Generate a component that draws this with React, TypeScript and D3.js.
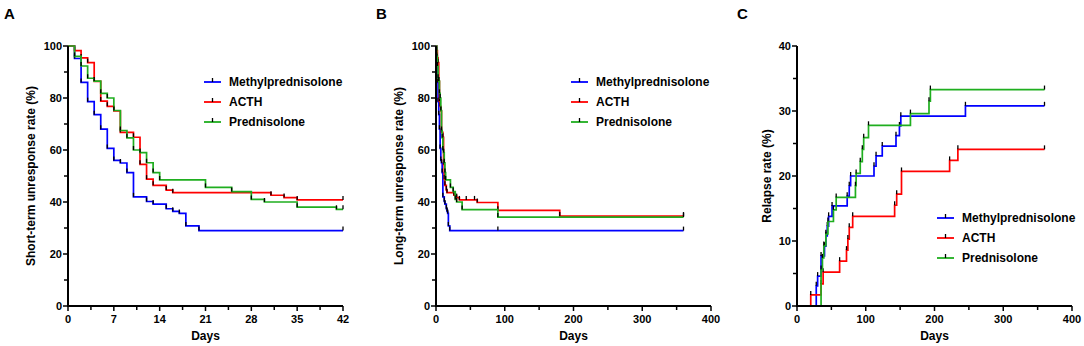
import * as d3 from "d3"
import React from "react"

type Pt = [number, number]

const seriesNames = ["Methylprednisolone", "ACTH", "Prednisolone"]
const seriesColors = ["#0000ff", "#ff0000", "#1fae1f"]

// Panel A: short-term unresponse rate (day, %)
const shortMethyl: Pt[] = [[0, 100], [1, 95.2], [2, 86], [3, 78.6], [4, 73.6], [5, 68], [6, 60.6], [7, 56], [8, 55], [9, 51.3], [10, 42], [12, 40.2], [13, 39.2], [15, 37.4], [16, 36.4], [17, 35.6], [18, 30.8], [20, 29]]
const shortActh: Pt[] = [[0, 100], [1, 98.2], [2, 95.4], [3, 93.6], [4, 86.4], [5, 78.8], [6, 76.8], [7, 75], [8, 66.8], [10, 64.9], [11, 54.5], [12, 48.8], [13, 46.4], [15, 44.6], [16, 43.6], [31, 42.6], [33, 41.7], [35, 40.8]]
const shortPred: Pt[] = [[0, 100], [1, 96], [2, 92.3], [3, 87.6], [4, 86.5], [5, 81.8], [6, 80], [7, 75.2], [8, 67.5], [9, 64.7], [10, 60], [11, 59], [12, 55.1], [13, 51.3], [14, 48.5], [21, 45.6], [25, 44], [28, 41], [30, 40], [35, 38], [41, 37.2]]

// Panel B: long-term unresponse rate (day, %)
const longMethyl: Pt[] = [[0, 100], [1, 95.2], [2, 86], [3, 78.6], [4, 73.6], [5, 68], [6, 60.6], [7, 56], [8, 55], [9, 51.3], [10, 42], [12, 40.2], [13, 39.2], [15, 37.4], [16, 36.4], [17, 35.6], [18, 30.8], [20, 29]]
const longActh: Pt[] = [[0, 100], [1, 98.2], [2, 95.4], [3, 93.6], [4, 86.4], [5, 78.8], [6, 76.8], [7, 75], [8, 66.8], [10, 64.9], [11, 54.5], [12, 48.8], [13, 46.4], [15, 44.6], [16, 43.6], [26, 42.6], [30, 41.7], [34, 40.8], [60, 39.8], [90, 36.8], [180, 34.6]]
const longPred: Pt[] = [[0, 100], [1, 96], [2, 92.3], [3, 87.6], [4, 86.5], [5, 81.8], [6, 80], [7, 75.2], [8, 67.5], [9, 64.7], [10, 60], [11, 59], [12, 55.1], [13, 51.3], [14, 48.5], [21, 45.6], [25, 44], [28, 41], [30, 40], [38, 37.1], [90, 34.2]]
const longCensorMethyl = [90]
const longCensorActh = [44, 56]
const longCensorPred: number[] = []

// Panel C: relapse rate (day, %)
const relapseMethyl: Pt[] = [[0, 0], [28, 3.1], [30, 4.6], [35, 7.7], [40, 9.2], [42, 10.8], [44, 12.3], [46, 13.8], [51, 15.4], [73, 16.9], [76, 18.5], [78, 20], [112, 21.5], [115, 23.1], [124, 24.6], [144, 26.2], [149, 27.7], [151, 29.2], [245, 30.8]]
const relapseActh: Pt[] = [[0, 0], [20, 1.7], [35, 3.4], [38, 5.2], [62, 6.9], [72, 8.6], [74, 10.3], [76, 12.1], [81, 13.8], [142, 15.5], [145, 17.2], [152, 20.7], [222, 22.4], [234, 24.1]]
const relapsePred: Pt[] = [[0, 0], [35, 5.6], [37, 7.4], [39, 9.3], [42, 11.1], [45, 13], [53, 14.8], [57, 16.7], [85, 18.5], [86, 20.4], [92, 22.2], [95, 24.1], [97, 25.9], [104, 27.8], [165, 29.6], [192, 31.5], [194, 33.3]]

const daysA = [0, 7, 14, 21, 28, 35, 42]
const daysBC = [0, 100, 200, 300, 400]
const pctAB = [0, 20, 40, 60, 80, 100]
const pctC = [0, 10, 20, 30, 40]

const font = "'Liberation Sans', Arial, sans-serif"
const top = 46
const bottom = 306
const plotW = 275

type Curve = { pts: Pt[]; censor: number[]; color: string }

const Panel = ({ left, letter, letterX, yTitle, yTitleX, xTicks, yTicks, end, curves, legendX, legendY }: {
  left: number; letter: string; letterX: number; yTitle: string; yTitleX: number
  xTicks: number[]; yTicks: number[]; end: number; curves: Curve[]; legendX: number; legendY: number
}) => {
  const x = d3.scaleLinear().domain([0, xTicks[xTicks.length - 1]]).range([left, left + plotW])
  const y = d3.scaleLinear().domain([0, yTicks[yTicks.length - 1]]).range([bottom, top])
  const line = d3.line<Pt>().x(d => x(d[0])).y(d => y(d[1])).curve(d3.curveStepAfter)
  const xMinor = xTicks.slice(1).map((t, i) => (t + xTicks[i]) / 2)
  const yMinor = yTicks.slice(1).map((t, i) => (t + yTicks[i]) / 2)

  // value of a step curve at a day
  const valueAt = (pts: Pt[], t: number) => {
    let v = pts[0][1]
    pts.forEach(p => { if (p[0] <= t) v = p[1] })
    return v
  }

  return (
    <g fontFamily={font} fontWeight="bold">
      <text x={letterX} y={19} fontSize={15}>{letter}</text>

      {curves.map((c, i) => {
        const last = c.pts[c.pts.length - 1]
        const ticks = c.pts.slice(1).map(p => p[0]).concat(c.censor, [end])
        return (
          <g key={i}>
            <path d={line([...c.pts, [end, last[1]]]) || ""} fill="none" stroke={c.color} strokeWidth={1.7} />
            {ticks.map((t, j) => (
              <line key={j} x1={x(t)} x2={x(t)} y1={y(valueAt(c.pts, t))} y2={y(valueAt(c.pts, t)) - 4}
                stroke="#000" strokeWidth={1.3} />
            ))}
          </g>
        )
      })}

      {/* axes */}
      <line x1={left} x2={left} y1={bottom + 1} y2={top} stroke="#000" strokeWidth={2} />
      <line x1={left - 1} x2={left + plotW} y1={bottom} y2={bottom} stroke="#000" strokeWidth={2} />
      {yTicks.map(t => (
        <g key={"y" + t}>
          <line x1={left - 5} x2={left} y1={y(t)} y2={y(t)} stroke="#000" strokeWidth={1.5} />
          <text x={left - 6} y={y(t)} dy="0.35em" textAnchor="end" fontSize={11}>{t}</text>
        </g>
      ))}
      {yMinor.map(t => (
        <line key={"ym" + t} x1={left - 4} x2={left} y1={y(t)} y2={y(t)} stroke="#000" strokeWidth={1.5} />
      ))}
      {xTicks.map(t => (
        <g key={"x" + t}>
          <line x1={x(t)} x2={x(t)} y1={bottom} y2={bottom + 5} stroke="#000" strokeWidth={1.5} />
          <text x={x(t)} y={bottom + 17} textAnchor="middle" fontSize={11}>{t}</text>
        </g>
      ))}
      {xMinor.map(t => (
        <line key={"xm" + t} x1={x(t)} x2={x(t)} y1={bottom} y2={bottom + 4} stroke="#000" strokeWidth={1.5} />
      ))}
      <text x={left + plotW / 2} y={340} textAnchor="middle" fontSize={12}>Days</text>
      <text transform={`translate(${yTitleX},${(top + bottom) / 2}) rotate(-90)`} dy="0.35em"
        textAnchor="middle" fontSize={12}>{yTitle}</text>

      {/* legend */}
      {seriesNames.map((n, i) => (
        <g key={n} transform={`translate(${legendX},${legendY + i * 20})`}>
          <line x1={0} x2={17} y1={0} y2={0} stroke={seriesColors[i]} strokeWidth={1.8} />
          <line x1={8.5} x2={8.5} y1={0} y2={-4} stroke="#000" strokeWidth={1.3} />
          <text x={25} y={0} dy="0.35em" fontSize={12}>{n}</text>
        </g>
      ))}
    </g>
  )
}

export default function App() {
  const cA: Curve[] = [
    { pts: shortMethyl, censor: [], color: seriesColors[0] },
    { pts: shortActh, censor: [], color: seriesColors[1] },
    { pts: shortPred, censor: [], color: seriesColors[2] },
  ]
  const cB: Curve[] = [
    { pts: longMethyl, censor: longCensorMethyl, color: seriesColors[0] },
    { pts: longActh, censor: longCensorActh, color: seriesColors[1] },
    { pts: longPred, censor: longCensorPred, color: seriesColors[2] },
  ]
  const cC: Curve[] = [
    { pts: relapseMethyl, censor: [], color: seriesColors[0] },
    { pts: relapseActh, censor: [], color: seriesColors[1] },
    { pts: relapsePred, censor: [], color: seriesColors[2] },
  ]
  return (
    <svg width={1084} height={346} style={{ position: "absolute", left: 0, top: 0, background: "#fff" }}>
      <Panel left={68} letter="A" letterX={4} yTitle="Short-term unresponse rate (%)" yTitleX={31}
        xTicks={daysA} yTicks={pctAB} end={42} curves={cA} legendX={204} legendY={82} />
      <Panel left={436} letter="B" letterX={376} yTitle="Long-term unresponse rate (%)" yTitleX={399}
        xTicks={daysBC} yTicks={pctAB} end={360} curves={cB} legendX={571} legendY={82} />
      <Panel left={797} letter="C" letterX={737} yTitle="Relapse rate (%)" yTitleX={767}
        xTicks={daysBC} yTicks={pctC} end={360} curves={cC} legendX={937} legendY={218} />
    </svg>
  )
}
